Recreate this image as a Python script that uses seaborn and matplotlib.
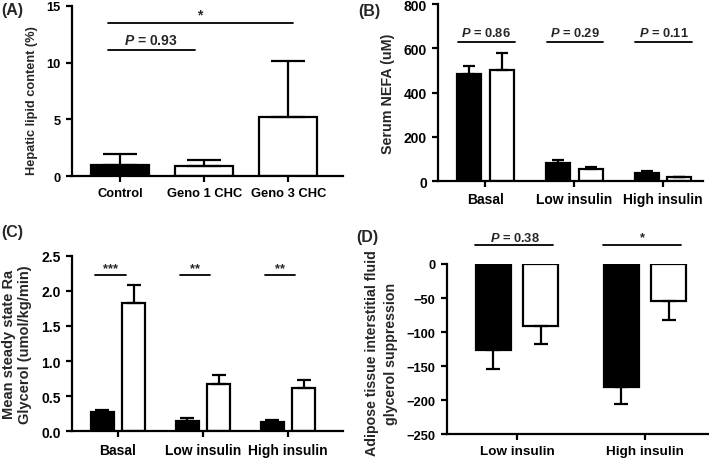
import numpy as np
import pandas as pd
import matplotlib
matplotlib.use('Agg')
import matplotlib.pyplot as plt
import seaborn as sns

# ---- data ----
a_groups = ['Control', 'Geno 1 CHC', 'Geno 3 CHC']
a_mean = [0.95, 0.88, 5.25]
a_err = [0.98, 0.55, 4.85]

b_groups = ['Basal', 'Low insulin', 'High insulin']
b_ctrl = [483, 80, 38]
b_ctrl_err = [38, 16, 9]
b_chc = [502, 54, 17]
b_chc_err = [76, 11, 4]
b_pvals = ['0.86', '0.29', '0.11']

c_groups = ['Basal', 'Low insulin', 'High insulin']
c_ctrl = [0.27, 0.15, 0.13]
c_ctrl_err = [0.03, 0.04, 0.035]
c_chc = [1.82, 0.68, 0.62]
c_chc_err = [0.26, 0.12, 0.11]
c_stars = ['***', '**', '**']

d_groups = ['Low insulin', 'High insulin']
d_ctrl = [-127, -181]
d_ctrl_err = [27, 25]
d_chc = [-91, -55]
d_chc_err = [26, 27]
d_labels = ['P = 0.38', '*']

sns.set_style('ticks')
plt.rcParams['font.family'] = ['Liberation Sans', 'DejaVu Sans']
plt.rcParams['font.weight'] = 'bold'
plt.rcParams['mathtext.fontset'] = 'custom'
plt.rcParams['mathtext.rm'] = 'Liberation Sans:bold'
plt.rcParams['mathtext.it'] = 'Liberation Sans:italic:bold'
plt.rcParams['mathtext.bf'] = 'Liberation Sans:bold'
plt.rcParams['mathtext.bfit'] = 'Liberation Sans:italic:bold'

FS_ANN = 9.3   # annotations
LW = 1.6


def ptxt(s):
    # "P = 0.93" -> italic P
    if s.startswith('P'):
        return r'$\bfit{P}$' + s[1:]
    return s


def style(ax, ylabel, coords, fs=10.3, xfs=10, yfs=10, ls=1.2):
    for sp in ['top', 'right']:
        ax.spines[sp].set_visible(False)
    for sp in ['left', 'bottom']:
        ax.spines[sp].set_linewidth(LW)
        ax.spines[sp].set_color('black')
    ax.tick_params(width=LW, length=4.5, colors='black')
    ax.tick_params(axis='x', labelsize=xfs)
    ax.tick_params(axis='y', labelsize=yfs)
    ax.set_xlabel('')
    ax.set_ylabel(ylabel, fontsize=fs, fontweight='bold', linespacing=ls)
    ax.yaxis.set_label_coords(*coords)
    for t in ax.get_xticklabels() + ax.get_yticklabels():
        t.set_fontweight('bold')


def grouped(ax, groups, ctrl, chc):
    df = pd.DataFrame({'group': groups * 2,
                       'value': ctrl + chc,
                       'arm': ['ctrl'] * len(groups) + ['chc'] * len(groups)})
    sns.barplot(data=df, x='group', y='value', hue='arm', order=groups,
                palette={'ctrl': 'black', 'chc': 'white'}, width=0.74, gap=0.27,
                edgecolor='black', linewidth=LW, errorbar=None, legend=False, ax=ax)


def errs(ax, x, y, e, cap, down=False):
    x = np.asarray(x, float)
    y = np.asarray(y, float)
    e = np.asarray(e, float)
    yerr = [e, np.zeros_like(e)] if down else [np.zeros_like(e), e]
    ax.errorbar(x, y, yerr=yerr, fmt='none', ecolor='black', elinewidth=LW,
                capsize=cap, capthick=LW, zorder=1)


fig = plt.figure(figsize=(7.09, 4.6), dpi=100)

# ---- (A) ----
axA = fig.add_axes([0.1016, 0.615, 0.3822, 0.37])
dfa = pd.DataFrame({'group': a_groups, 'value': a_mean})
sns.barplot(data=dfa, x='group', y='value', hue='group', order=a_groups,
            palette=['black', 'white', 'white'], width=0.69, edgecolor='black',
            linewidth=LW, errorbar=None, legend=False, ax=axA)
errs(axA, range(3), a_mean, a_err, 12)
axA.set_ylim(0, 15)
axA.set_yticks([0, 5, 10, 15])
axA.set_xlim(-0.57, 2.65)
axA.plot([-0.14, 2.06], [13.5, 13.5], color='black', lw=1.3, clip_on=False)
axA.text(0.95, 13.6, '*', ha='center', va='bottom', fontsize=10, fontweight='bold')
axA.plot([-0.14, 0.89], [11.15, 11.15], color='black', lw=1.3, clip_on=False)
axA.text(0.37, 11.4, ptxt('P = 0.93'), ha='center', va='bottom', fontsize=10, fontweight='bold')
style(axA, 'Hepatic lipid content (%)', (-0.125, 0.45), fs=9.2, xfs=9.3, yfs=9.3)

# ---- (B) ----
axB = fig.add_axes([0.618, 0.604, 0.3735, 0.385])
grouped(axB, b_groups, b_ctrl, b_chc)
xs = np.arange(3)
errs(axB, xs - 0.185, b_ctrl, b_ctrl_err, 4)
errs(axB, xs + 0.185, b_chc, b_chc_err, 4)
axB.set_ylim(0, 800)
axB.set_yticks([0, 200, 400, 600, 800])
axB.set_xlim(-0.53, 2.45)
for i, p in enumerate(b_pvals):
    axB.plot([i - 0.31, i + 0.33], [627, 627], color='black', lw=1.3, clip_on=False)
    axB.text(i + 0.01, 640, ptxt('P = ' + p), ha='center', va='bottom', fontsize=FS_ANN, fontweight='bold')
style(axB, 'Serum NEFA (uM)', (-0.162, 0.5))

# ---- (C) ----
axC = fig.add_axes([0.1016, 0.060, 0.3822, 0.382])
grouped(axC, c_groups, c_ctrl, c_chc)
errs(axC, xs - 0.185, c_ctrl, c_ctrl_err, 5)
errs(axC, xs + 0.185, c_chc, c_chc_err, 5)
axC.set_ylim(0, 2.5)
axC.set_yticks([0, 0.5, 1.0, 1.5, 2.0, 2.5])
axC.set_yticklabels(['0.0', '0.5', '1.0', '1.5', '2.0', '2.5'])
axC.set_xlim(-0.54, 2.65)
for i, s in enumerate(c_stars):
    axC.plot([i - 0.27, i + 0.09], [2.23, 2.23], color='black', lw=1.3, clip_on=False)
    axC.text(i - 0.09, 2.24, s, ha='center', va='bottom', fontsize=FS_ANN, fontweight='bold')
style(axC, 'Mean steady state Ra\nGlycerol (umol/kg/min)', (-0.148, 0.5), fs=10.5)

# ---- (D) ----
axD = fig.add_axes([0.630, 0.054, 0.370, 0.370])
grouped(axD, d_groups, d_ctrl, d_chc)
xd = np.arange(2)
errs(axD, xd - 0.185, d_ctrl, d_ctrl_err, 5, down=True)
errs(axD, xd + 0.185, d_chc, d_chc_err, 5, down=True)
axD.set_ylim(-250, 0)
axD.set_yticks([0, -50, -100, -150, -200, -250])
axD.set_yticklabels(['0', '\u221250', '\u2212100', '\u2212150', '\u2212200', '\u2212250'])
axD.set_xlim(-0.55, 1.5)
for i, s in enumerate(d_labels):
    axD.plot([i - 0.33, i + 0.28], [28, 28], color='black', lw=1.3, clip_on=False)
    axD.text(i - 0.02, 30, ptxt(s), ha='center', va='bottom', fontsize=FS_ANN, fontweight='bold')
style(axD, 'Adipose tissue interstitial fluid\nglycerol suppression', (-0.186, 0.48),
      fs=10.2, xfs=9.7, yfs=9.3, ls=1.4)

# panel letters
for x, y, lab in [(0.002, 0.977, '(A)'), (0.505, 0.976, '(B)'),
                  (0.002, 0.495, '(C)'), (0.503, 0.483, '(D)')]:
    fig.text(x, y, lab, fontsize=11.5, fontweight='bold', va='center', ha='left')

fig.savefig('out.png', dpi=100)
